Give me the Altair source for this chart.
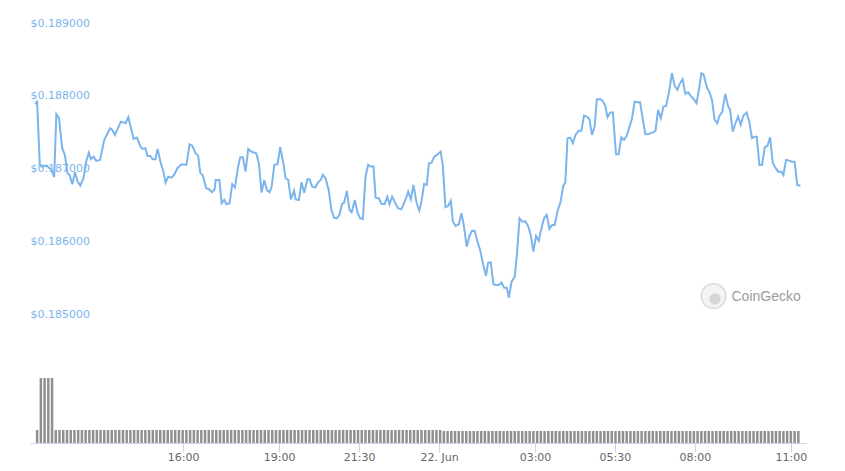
import altair as alt
import pandas as pd

START = "2021-06-21T11:22:00"

# minutes after START for each price sample
minutes = [
    0, 4, 9, 12, 22, 31, 36, 40, 45, 51,
    56, 61, 65, 70, 75, 80, 85, 91, 96, 101,
    105, 110, 115, 122, 130, 141, 145, 150, 161, 170,
    175, 185, 191, 198, 202, 207, 211, 216, 221, 226,
    230, 236, 241, 245, 250, 256, 261, 267, 275, 284,
    290, 295, 301, 306, 310, 315, 321, 326, 332, 337,
    339, 346, 350, 355, 359, 365, 370, 375, 381, 385,
    390, 395, 400, 406, 415, 420, 425, 430, 435, 440,
    444, 449, 455, 460, 466, 470, 475, 480, 486, 489,
    495, 500, 505, 511, 515, 520, 526, 531, 536, 540,
    545, 551, 556, 561, 566, 571, 576, 580, 585, 590,
    594, 600, 605, 610, 615, 620, 625, 630, 635, 639,
    645, 650, 656, 661, 665, 670, 676, 681, 687, 691,
    696, 700, 705, 710, 716, 721, 725, 730, 735, 739,
    744, 749, 754, 761, 765, 770, 775, 780, 784, 789,
    795, 800, 804, 810, 815, 820, 825, 830, 835, 841,
    846, 850, 855, 860, 865, 870, 875, 880, 885, 889,
    894, 900, 904, 909, 914, 920, 925, 930, 935, 940,
    945, 949, 955, 960, 965, 970, 975, 980, 986, 991,
    995, 999, 1004, 1009, 1014, 1020, 1025, 1030, 1035, 1040,
    1045, 1050, 1054, 1061, 1065, 1070, 1074, 1079, 1084, 1090,
    1095, 1100, 1105, 1110, 1115, 1120, 1125, 1130, 1135, 1140,
    1145, 1151, 1158, 1164, 1169, 1174, 1179, 1184, 1189, 1195,
    1200, 1205, 1210, 1215, 1220, 1225, 1230, 1236, 1241, 1246,
    1250, 1254, 1261, 1265, 1270, 1275, 1280, 1284, 1289, 1295,
    1300, 1304, 1309, 1314, 1319, 1324, 1329, 1335, 1340, 1345,
    1350, 1354, 1359, 1364, 1369, 1374, 1379, 1384, 1389, 1394,
    1400, 1404, 1409, 1415, 1420, 1425, 1430, 1436,
]

prices = [
    0.187959, 0.187991, 0.187121, 0.187098, 0.187111, 0.187052, 0.186952, 0.187818, 0.187763, 0.187351,
    0.187258, 0.187007, 0.186983, 0.186856, 0.187021, 0.186891, 0.186836, 0.186938, 0.187166, 0.187290,
    0.187199, 0.187235, 0.187176, 0.187190, 0.187465, 0.187625, 0.187602, 0.187533, 0.187716, 0.187694,
    0.187777, 0.187478, 0.187496, 0.187372, 0.187341, 0.187351, 0.187245, 0.187245, 0.187199, 0.187199,
    0.187341, 0.187144, 0.187029, 0.186878, 0.186960, 0.186946, 0.186983, 0.187076, 0.187131, 0.187121,
    0.187405, 0.187386, 0.187282, 0.187249, 0.187015, 0.186974, 0.186801, 0.186791, 0.186746, 0.186787,
    0.186915, 0.186915, 0.186594, 0.186640, 0.186581, 0.186594, 0.186856, 0.186809, 0.187098, 0.187227,
    0.187227, 0.187029, 0.187341, 0.187304, 0.187282, 0.187144, 0.186740, 0.186915, 0.186777, 0.186746,
    0.186823, 0.187121, 0.187131, 0.187364, 0.187144, 0.186938, 0.186915, 0.186649, 0.186768, 0.186649,
    0.186640, 0.186883, 0.186740, 0.186924, 0.186924, 0.186823, 0.186814, 0.186883, 0.186915, 0.186983,
    0.186938, 0.186777, 0.186502, 0.186396, 0.186388, 0.186434, 0.186585, 0.186603, 0.186764, 0.186502,
    0.186471, 0.186640, 0.186465, 0.186388, 0.186375, 0.186960, 0.187121, 0.187098, 0.187098, 0.186671,
    0.186663, 0.186585, 0.186585, 0.186685, 0.186581, 0.186685, 0.186594, 0.186526, 0.186512, 0.186571,
    0.186663, 0.186754, 0.186649, 0.186846, 0.186594, 0.186493, 0.186616, 0.186860, 0.186846, 0.187144,
    0.187152, 0.187235, 0.187258, 0.187304, 0.187121, 0.186539, 0.186557, 0.186630, 0.186342, 0.186282,
    0.186306, 0.186457, 0.186310, 0.185998, 0.186145, 0.186218, 0.186214, 0.186067, 0.185953, 0.185746,
    0.185595, 0.185778, 0.185783, 0.185481, 0.185471, 0.185471, 0.185503, 0.185434, 0.185434, 0.185297,
    0.185517, 0.185586, 0.185884, 0.186388, 0.186342, 0.186342, 0.186282, 0.186159, 0.185929, 0.186145,
    0.186080, 0.186218, 0.186388, 0.186434, 0.186241, 0.186296, 0.186296, 0.186479, 0.186616, 0.186832,
    0.186883, 0.187488, 0.187496, 0.187419, 0.187533, 0.187592, 0.187592, 0.187799, 0.187785, 0.187753,
    0.187533, 0.187657, 0.188024, 0.188024, 0.188001, 0.187932, 0.187777, 0.187840, 0.187840, 0.187268,
    0.187268, 0.187502, 0.187465, 0.187520, 0.187639, 0.187763, 0.187991, 0.187983, 0.187983, 0.187763,
    0.187543, 0.187547, 0.187565, 0.187588, 0.187877, 0.187763, 0.187922, 0.187932, 0.188107, 0.188381,
    0.188207, 0.188152, 0.188244, 0.188299, 0.188097, 0.188120, 0.188069, 0.188024, 0.187969, 0.188175,
    0.188381, 0.188368, 0.188175, 0.188129, 0.188014, 0.187740, 0.187694, 0.187799, 0.187845, 0.188097,
    0.187932, 0.187877, 0.187579, 0.187694, 0.187785, 0.187671, 0.187799, 0.187840, 0.187716, 0.187488,
    0.187510, 0.187510, 0.187121, 0.187121, 0.187364, 0.187382, 0.187502, 0.187152, 0.187084, 0.187029,
    0.187029, 0.186983, 0.187190, 0.187180, 0.187166, 0.187166, 0.186846, 0.186836,
]

# volume bars (one every 7 minutes, first at START + 4 min), millions USD
VOL_FIRST_MIN = 4
VOL_STEP_MIN = 7
volumes = [
    2.6, 13.0, 13.0, 13.0, 13.0, 2.6, 2.6, 2.6, 2.6, 2.6,
    2.6, 2.6, 2.6, 2.6, 2.6, 2.6, 2.6, 2.6, 2.6, 2.6,
    2.6, 2.6, 2.6, 2.6, 2.6, 2.6, 2.6, 2.6, 2.6, 2.6,
    2.6, 2.6, 2.6, 2.6, 2.6, 2.6, 2.6, 2.6, 2.6, 2.6,
    2.6, 2.6, 2.6, 2.6, 2.6, 2.6, 2.6, 2.6, 2.6, 2.6,
    2.6, 2.6, 2.6, 2.6, 2.6, 2.6, 2.6, 2.6, 2.6, 2.6,
    2.6, 2.6, 2.6, 2.6, 2.6, 2.6, 2.6, 2.6, 2.6, 2.6,
    2.6, 2.6, 2.6, 2.6, 2.6, 2.6, 2.6, 2.6, 2.6, 2.6,
    2.6, 2.6, 2.6, 2.6, 2.6, 2.6, 2.6, 2.6, 2.6, 2.6,
    2.6, 2.6, 2.6, 2.6, 2.6, 2.6, 2.6, 2.6, 2.6, 2.6,
    2.6, 2.6, 2.6, 2.6, 2.6, 2.6, 2.6, 2.6, 2.6, 2.4,
    2.4, 2.4, 2.4, 2.4, 2.4, 2.4, 2.4, 2.4, 2.4, 2.4,
    2.4, 2.4, 2.4, 2.4, 2.4, 2.4, 2.4, 2.4, 2.4, 2.4,
    2.4, 2.4, 2.4, 2.4, 2.4, 2.4, 2.4, 2.4, 2.4, 2.4,
    2.4, 2.4, 2.4, 2.4, 2.4, 2.4, 2.4, 2.4, 2.4, 2.4,
    2.4, 2.4, 2.4, 2.4, 2.4, 2.4, 2.4, 2.4, 2.4, 2.4,
    2.4, 2.4, 2.4, 2.4, 2.4, 2.4, 2.4, 2.4, 2.4, 2.4,
    2.4, 2.4, 2.4, 2.4, 2.4, 2.4, 2.4, 2.4, 2.4, 2.4,
    2.4, 2.4, 2.4, 2.4, 2.4, 2.4, 2.4, 2.4, 2.4, 2.4,
    2.4, 2.4, 2.4, 2.4, 2.4, 2.4, 2.4, 2.4, 2.4, 2.4,
    2.4, 2.4, 2.4, 2.4, 2.4,
]

price_ticks = [0.185, 0.186, 0.187, 0.188, 0.189]
time_ticks = [
    (21, 16, 0), (21, 19, 0), (21, 21, 30), (22, 0, 0),
    (22, 3, 0), (22, 5, 30), (22, 8, 0), (22, 11, 0),
]

t0 = pd.Timestamp(START)
fmt = "%Y-%m-%dT%H:%M:%S"
price_df = pd.DataFrame({
    "time": [(t0 + pd.Timedelta(minutes=m)).strftime(fmt) for m in minutes],
    "price": prices,
})
vol_df = pd.DataFrame({
    "time": [(t0 + pd.Timedelta(minutes=VOL_FIRST_MIN + VOL_STEP_MIN * k)).strftime(fmt)
             for k in range(len(volumes))],
    "volume": volumes,
})

xscale = alt.Scale(domain=[
    alt.DateTime(year=2021, month=6, date=21, hours=11, minutes=22),
    alt.DateTime(year=2021, month=6, date=22, hours=11, minutes=19),
])
xaxis = alt.Axis(
    values=[alt.DateTime(year=2021, month=6, date=d, hours=h, minutes=mi) for d, h, mi in time_ticks],
    labelExpr="hours(datum.value) == 0 ? '22. Jun' : timeFormat(datum.value, '%H:%M')",
    title=None, grid=False, tickColor="#ccd6eb", tickSize=9, tickWidth=1,
    domainColor="#ccd6eb", labelColor="#666666", labelFont="DejaVu Sans",
    labelFontSize=11, labelBaseline="alphabetic", labelPadding=8,
    labelOverlap=False, labelFlush=False,
)
yaxis = alt.Axis(
    values=price_ticks, format="$.6f", title=None, ticks=False, tickSize=0,
    domain=False, labelAlign="left", labelPadding=0, labelOffset=-2,
    labelBaseline="alphabetic", labelColor="#7cb5ec", labelFont="DejaVu Sans",
    labelFontSize=11, gridColor="#e6e6e6", gridWidth=1, labelOverlap=False,
    labelFlush=False,
)

bars = alt.Chart(vol_df).mark_bar(size=2.5, color="#909090").encode(
    x=alt.X("time:T", scale=xscale, axis=xaxis),
    y=alt.Y("volume:Q", scale=alt.Scale(domain=[0, 86.6], nice=False, zero=True), axis=None),
)

line = alt.Chart(price_df).mark_line(color="#7cb5ec", strokeWidth=2).encode(
    x=alt.X("time:T", scale=xscale, axis=xaxis),
    y=alt.Y("price:Q", scale=alt.Scale(domain=[0.1833, 0.18925], nice=False, zero=False), axis=yaxis),
)

one = alt.Data(values=[{}])
logo_ring = alt.Chart(one).mark_circle(
    size=600, color="#f4f4f4", stroke="#d9d9d9", strokeWidth=1.5, opacity=1
).encode(x=alt.value(683.5), y=alt.value(286))
logo_head = alt.Chart(one).mark_circle(size=130, color="#d6d6d6", opacity=1).encode(
    x=alt.value(685), y=alt.value(289))
logo_text = alt.Chart(one).mark_text(
    text="CoinGecko", align="left", baseline="middle", font="Liberation Sans",
    fontSize=14, color="#9b9b9b"
).encode(x=alt.value(701.5), y=alt.value(287))

chart = alt.layer(
    bars, line, logo_ring, logo_head, logo_text
).resolve_scale(y="independent").properties(
    width=776, height=433,
    autosize=alt.AutoSizeParams(type="none"),
    padding={"left": 22, "top": 2, "right": 31, "bottom": 20},
).configure_view(stroke=None)

chart.save("out.html", embed_options={"renderer": "svg", "actions": False})
